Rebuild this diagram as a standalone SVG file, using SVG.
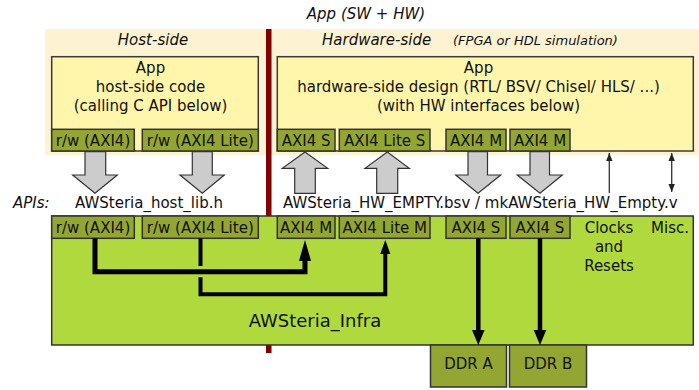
<svg xmlns="http://www.w3.org/2000/svg" width="699" height="390" viewBox="0 0 699 390">
<defs>
<style>
text{font-family:"DejaVu Sans","Liberation Sans",sans-serif;font-size:15px;fill:#111;}
.it{font-style:italic;}
.m{text-anchor:middle;}
.box{fill:#fff6ac;stroke:#3a3a3a;stroke-width:1.5;}
.port{fill:#93a632;stroke:#333;stroke-width:1.5;}
.infra{fill:#afd93c;stroke:#333;stroke-width:1.5;}
.garrow{fill:#cccccc;stroke:#333;stroke-width:1.2;}
.thin{stroke:#333;stroke-width:1.3;fill:none;}
.bus{stroke:#000;fill:none;stroke-linejoin:miter;}
</style>
<marker id="ah" viewBox="0 0 10 10" refX="10" refY="5" markerWidth="8" markerHeight="8" orient="auto-start-reverse" markerUnits="userSpaceOnUse">
<path d="M0,1 L10,5 L0,9 Z" fill="#222"/>
</marker>
</defs>

<!-- backgrounds -->
<rect x="45" y="29" width="654" height="126" fill="#fdf3d2"/>
<rect x="266" y="29" width="5.5" height="324" fill="#800000"/>

<text class="it m" x="366" y="19">App (SW + HW)</text>
<text class="it m" x="153" y="45">Host-side</text>
<text class="it" x="322" y="45">Hardware-side</text>
<text class="it" x="453" y="45" style="font-size:13px">(FPGA or HDL simulation)</text>

<g id="host-app">
<rect class="box" x="51.7" y="56.7" width="206.6" height="94.3"/>
<text class="m" x="150.5" y="73">App</text>
<text class="m" x="150.5" y="92">host-side code</text>
<text class="m" x="150.5" y="111">(calling C API below)</text>
<rect class="port" x="51.7" y="129.3" width="82.6" height="21.7"/>
<text class="m" x="93" y="146">r/w (AXI4)</text>
<rect class="port" x="142.3" y="129.3" width="116" height="21.7"/>
<text class="m" x="200.3" y="146">r/w (AXI4 Lite)</text>
</g>

<g id="hw-app">
<rect class="box" x="277.3" y="56.7" width="416" height="94.3"/>
<text class="m" x="478.5" y="73">App</text>
<text class="m" x="478.5" y="92">hardware-side design (RTL/ BSV/ Chisel/ HLS/ ...)</text>
<text class="m" x="478.5" y="111">(with HW interfaces below)</text>
<rect class="port" x="277.3" y="129.3" width="57.7" height="21.7"/>
<text class="m" x="306.2" y="146">AXI4 S</text>
<rect class="port" x="339.3" y="129.3" width="90.7" height="21.7"/>
<text class="m" x="384.7" y="146">AXI4 Lite S</text>
<rect class="port" x="446" y="129.3" width="60" height="21.7"/>
<text class="m" x="476" y="146">AXI4 M</text>
<rect class="port" x="510" y="129.3" width="60" height="21.7"/>
<text class="m" x="540" y="146">AXI4 M</text>
</g>

<g id="apis">
<text class="it" x="13" y="208">APIs:</text>
<text x="75" y="208">AWSteria_host_lib.h</text>
<text x="283" y="208">AWSteria_HW_EMPTY.bsv / mkAWSteria_HW_Empty.v</text>
</g>

<g id="infra">
<rect class="infra" x="51.7" y="216" width="641.6" height="129"/>
<rect class="port" x="51.7" y="216" width="82.6" height="22.3"/>
<text class="m" x="93" y="233">r/w (AXI4)</text>
<rect class="port" x="142.3" y="216" width="116" height="22.3"/>
<text class="m" x="200.3" y="233">r/w (AXI4 Lite)</text>
<rect class="port" x="277.3" y="216" width="57.7" height="22.3"/>
<text class="m" x="306.2" y="233">AXI4 M</text>
<rect class="port" x="339.3" y="216" width="90.7" height="22.3"/>
<text class="m" x="384.7" y="233">AXI4 Lite M</text>
<rect class="port" x="446" y="216" width="60" height="22.3"/>
<text class="m" x="476" y="233">AXI4 S</text>
<rect class="port" x="510" y="216" width="60" height="22.3"/>
<text class="m" x="540" y="233">AXI4 S</text>
<text class="m" x="609" y="233">Clocks</text>
<text class="m" x="609" y="252">and</text>
<text class="m" x="609" y="271">Resets</text>
<text class="m" x="670" y="233">Misc.</text>
<text class="m" x="315" y="327" style="font-size:18px">AWSteria_Infra</text>
</g>

<g id="ddr-a">
<rect class="port" x="430.5" y="345" width="76" height="42"/>
<text class="m" x="468.5" y="369">DDR A</text>
</g>
<g id="ddr-b">
<rect class="port" x="509.5" y="345" width="77" height="42"/>
<text class="m" x="548" y="369">DDR B</text>
</g>

<g id="connectors">
<!-- gray block arrows -->
<path class="garrow" d="M85,151.7 H105.7 V175 H117.3 L95,193.3 L72.7,175 H85 Z"/>
<path class="garrow" d="M192.3,151.7 H212.3 V175 H224.3 L202.3,193.3 L180,175 H192.3 Z"/>
<path class="garrow" d="M294.7,193.3 V168.3 H282.3 L305,152 L327.7,168.3 H315.3 V193.3 Z"/>
<path class="garrow" d="M376.7,193.3 V168.3 H365 L387.3,152 L409.3,168.3 H397.7 V193.3 Z"/>
<path class="garrow" d="M468,151.7 H487.5 V175 H500.7 L478,193.3 L455.7,175 H468 Z"/>
<path class="garrow" d="M530,151.7 H549.5 V175 H562.3 L540,193.3 L517.3,175 H530 Z"/>
<!-- thin arrows -->
<path class="thin" d="M609.3,193 V153" marker-end="url(#ah)"/>
<path class="thin" d="M671.7,153 V192" marker-start="url(#ah)" marker-end="url(#ah)"/>
<!-- black buses -->
<path class="bus" stroke-width="5" d="M95,238.3 V271.7 H305 V258"/>
<path d="M299,261 L305,240 L311,261 Z" fill="#000"/>
<path class="bus" stroke-width="4" d="M200.5,238.3 V266"/>
<path class="bus" stroke-width="4" d="M200.5,277.3 V294.3 H385.3 V252"/>
<path d="M380.3,254 L385.3,240 L390.3,254 Z" fill="#000"/>
<path class="bus" stroke-width="4.5" d="M478.3,238.3 V332"/>
<path d="M472,330 L478.3,345 L484.6,330 Z" fill="#000"/>
<path class="bus" stroke-width="4.5" d="M540,238.3 V332"/>
<path d="M533.7,330 L540,345 L546.3,330 Z" fill="#000"/>
</g>
</svg>
